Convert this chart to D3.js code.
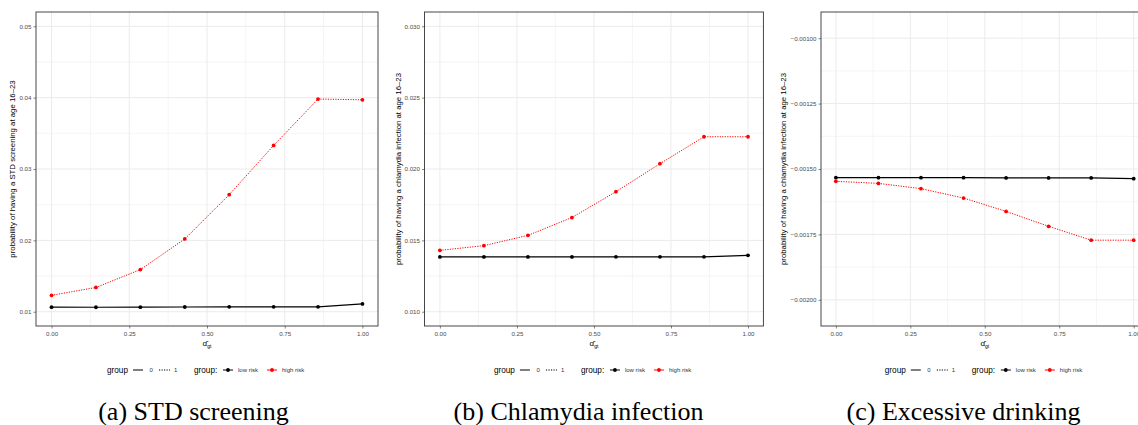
<!DOCTYPE html>
<html><head><meta charset="utf-8">
<script src="https://cdn.jsdelivr.net/npm/d3@7"></script>
<style>body{margin:0;background:#fff;} svg{display:block;}</style>
</head><body>
<svg id="c" width="1138" height="425"></svg>
<script>
const xVals = [0, 1/7, 2/7, 3/7, 4/7, 5/7, 6/7, 1];
const xTicks = [0, 0.25, 0.5, 0.75, 1];
const xTickLabels = ["0.00", "0.25", "0.50", "0.75", "1.00"];

const stdLow  = [0.01064, 0.01063, 0.01064, 0.01066, 0.01068, 0.01069, 0.01069, 0.0111];
const stdHigh = [0.0123, 0.0134, 0.0159, 0.0202, 0.0264, 0.0333, 0.0398, 0.0397];
const stdTicks = [0.01, 0.02, 0.03, 0.04, 0.05];
const stdTickLabels = ["0.01", "0.02", "0.03", "0.04", "0.05"];

const chlLow  = [0.01384, 0.01384, 0.01384, 0.01384, 0.01385, 0.01385, 0.01385, 0.01395];
const chlHigh = [0.0143, 0.01463, 0.01535, 0.0166, 0.01841, 0.02037, 0.02226, 0.02226];
const chlTicks = [0.010, 0.015, 0.020, 0.025, 0.030];
const chlTickLabels = ["0.010", "0.015", "0.020", "0.025", "0.030"];

const drkLow  = [-0.001533, -0.001533, -0.001533, -0.001533, -0.001534, -0.001534, -0.001534, -0.001537];
const drkHigh = [-0.001547, -0.001555, -0.001575, -0.001611, -0.001662, -0.001719, -0.001772, -0.001772];
const drkTicks = [-0.001, -0.00125, -0.0015, -0.00175, -0.002];
const drkTickLabels = ["\u22120.00100", "\u22120.00125", "\u22120.00150", "\u22120.00175", "\u22120.00200"];

const captions = ["(a) STD screening", "(b) Chlamydia infection", "(c) Excessive drinking"];
const yTitles = ["probability of having a STD screening at age 16\u201323",
                 "probability of having a chlamydia infection at age 16\u201323",
                 "probability of having a chlamydia infection at age 16\u201323"];

const panels = [
  {left: 36, right: 378, yDom: [0.008, 0.052], low: stdLow, high: stdHigh, ticks: stdTicks, labels: stdTickLabels, titleX: 12},
  {left: 424.5, right: 763.4, yDom: [0.009, 0.031], low: chlLow, high: chlHigh, ticks: chlTicks, labels: chlTickLabels, titleX: 398},
  {left: 821, right: 1148.6, yDom: [-0.0021, -0.0009], low: drkLow, high: drkHigh, ticks: drkTicks, labels: drkTickLabels, titleX: 783}
];

const svg = d3.select("#c");
const pTop = 12, pBottom = 326;
const font = "Liberation Sans, Arial, sans-serif";

panels.forEach((p, i) => {
  const g = svg.append("g");
  const x = d3.scaleLinear().domain([-0.05, 1.05]).range([p.left, p.right]);
  const y = d3.scaleLinear().domain(p.yDom).range([pBottom, pTop]);
  const minorX = [0.125, 0.375, 0.625, 0.875];
  const ystep = p.ticks[1] - p.ticks[0];
  const minorY = p.ticks.slice(0, -1).map(t => t + ystep / 2);
  g.selectAll(".mx").data(minorX).join("line")
    .attr("x1", d => x(d)).attr("x2", d => x(d)).attr("y1", pTop).attr("y2", pBottom)
    .attr("stroke", "#f0f0f0").attr("stroke-width", 0.7);
  g.selectAll(".my").data(minorY).join("line")
    .attr("y1", d => y(d)).attr("y2", d => y(d)).attr("x1", p.left).attr("x2", p.right)
    .attr("stroke", "#f0f0f0").attr("stroke-width", 0.7);
  g.selectAll(".gx").data(xTicks).join("line")
    .attr("x1", d => x(d)).attr("x2", d => x(d)).attr("y1", pTop).attr("y2", pBottom)
    .attr("stroke", "#ebebeb").attr("stroke-width", 1);
  g.selectAll(".gy").data(p.ticks).join("line")
    .attr("y1", d => y(d)).attr("y2", d => y(d)).attr("x1", p.left).attr("x2", p.right)
    .attr("stroke", "#ebebeb").attr("stroke-width", 1);

  const xAxis = d3.axisBottom(x).tickValues(xTicks).tickFormat((d, k) => xTickLabels[k]).tickSize(2.5).tickPadding(3);
  const gx = g.append("g").attr("transform", `translate(0,${pBottom})`).call(xAxis);
  const yAxis = d3.axisLeft(y).tickValues(p.ticks).tickFormat((d, k) => p.labels[k]).tickSize(2.5).tickPadding(2);
  const gy = g.append("g").attr("transform", `translate(${p.left},0)`).call(yAxis);
  [gx, gy].forEach(a => {
    a.select(".domain").remove();
    a.selectAll(".tick line").attr("stroke", "#333333").attr("stroke-width", 0.6);
    a.selectAll(".tick text").attr("fill", "#4d4d4d").style("font-size", "6.2px").style("font-family", font);
  });

  const line = d3.line().x((d, k) => x(xVals[k])).y(d => y(d));
  g.append("path").datum(p.low).attr("d", line).attr("fill", "none")
    .attr("stroke", "#000000").attr("stroke-width", 1.2);
  g.append("path").datum(p.high).attr("d", line).attr("fill", "none")
    .attr("stroke", "#ff0000").attr("stroke-width", 1).attr("stroke-dasharray", "1.2,1.3");
  g.selectAll(".pl").data(p.low).join("circle")
    .attr("cx", (d, k) => x(xVals[k])).attr("cy", d => y(d)).attr("r", 1.9).attr("fill", "#000000");
  g.selectAll(".ph").data(p.high).join("circle")
    .attr("cx", (d, k) => x(xVals[k])).attr("cy", d => y(d)).attr("r", 1.9).attr("fill", "#ff0000");

  g.append("rect").attr("x", p.left).attr("y", pTop).attr("width", p.right - p.left).attr("height", pBottom - pTop)
    .attr("fill", "none").attr("stroke", "#333333").attr("stroke-width", 0.9);

  const cx = (p.left + p.right) / 2;
  const xt = g.append("text").attr("x", cx).attr("y", 346).attr("text-anchor", "middle")
    .style("font-family", font).style("font-size", "8px").attr("fill", "#000000");
  xt.append("tspan").text("\u03b1\u0302");
  xt.append("tspan").attr("dy", 2).style("font-size", "5px").text("gt");

  g.append("text").attr("transform", `translate(${p.titleX},${(pTop + pBottom) / 2}) rotate(-90)`)
    .attr("text-anchor", "middle").attr("dy", "0.35em")
    .style("font-family", font).style("font-size", "7.8px").attr("fill", "#000000").text(yTitles[i]);

  const lx = cx - 100, ly = 370;
  const lg = g.append("g").style("font-family", font);
  lg.append("text").attr("x", lx).attr("y", ly + 2.8).style("font-size", "8.2px").attr("fill", "#000000").text("group");
  lg.append("line").attr("x1", lx + 26).attr("x2", lx + 36).attr("y1", ly).attr("y2", ly).attr("stroke", "#000000").attr("stroke-width", 1);
  lg.append("text").attr("x", lx + 42.5).attr("y", ly + 2.2).style("font-size", "6px").attr("fill", "#333333").text("0");
  lg.append("line").attr("x1", lx + 52).attr("x2", lx + 63).attr("y1", ly).attr("y2", ly).attr("stroke", "#000000").attr("stroke-width", 1).attr("stroke-dasharray", "1.2,1.3");
  lg.append("text").attr("x", lx + 67).attr("y", ly + 2.2).style("font-size", "6px").attr("fill", "#333333").text("1");
  lg.append("text").attr("x", lx + 87).attr("y", ly + 2.8).style("font-size", "8.2px").attr("fill", "#000000").text("group:");
  lg.append("line").attr("x1", lx + 116).attr("x2", lx + 126).attr("y1", ly).attr("y2", ly).attr("stroke", "#000000").attr("stroke-width", 1);
  lg.append("circle").attr("cx", lx + 121).attr("cy", ly).attr("r", 1.9).attr("fill", "#000000");
  lg.append("text").attr("x", lx + 131).attr("y", ly + 2.2).style("font-size", "6px").attr("fill", "#333333").text("low risk");
  lg.append("line").attr("x1", lx + 160).attr("x2", lx + 170).attr("y1", ly).attr("y2", ly).attr("stroke", "#ff0000").attr("stroke-width", 1);
  lg.append("circle").attr("cx", lx + 165).attr("cy", ly).attr("r", 1.9).attr("fill", "#ff0000");
  lg.append("text").attr("x", lx + 175).attr("y", ly + 2.2).style("font-size", "6px").attr("fill", "#333333").text("high risk");
});

const capX = [193.5, 578.5, 963.5];
svg.selectAll(".cap").data(captions).join("text")
  .attr("x", (d, i) => capX[i]).attr("y", 420).attr("text-anchor", "middle")
  .style("font-family", "Liberation Serif, Times New Roman, serif").style("font-size", "26px")
  .attr("fill", "#000000").text(d => d);
</script>
</body></html>
